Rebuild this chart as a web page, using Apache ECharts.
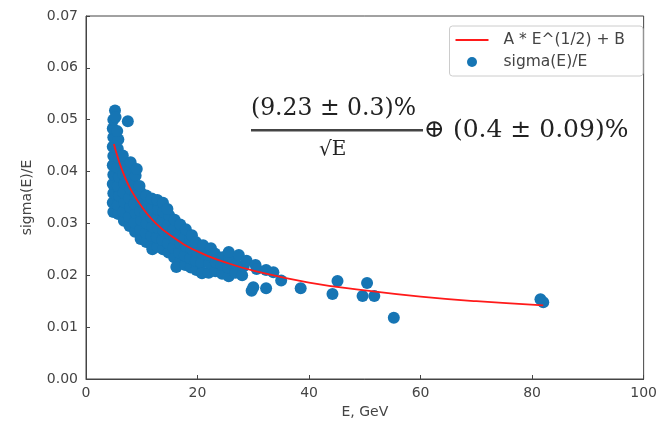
<!DOCTYPE html>
<html>
<head>
<meta charset="utf-8">
<script src="https://cdn.jsdelivr.net/npm/echarts@6/dist/echarts.min.js"></script>
<style>
  html, body { margin: 0; padding: 0; background: #fff; }
  #chart { width: 660px; height: 424px; }
</style>
</head>
<body>
<div id="chart"></div>
<script>
// fitted curve
const fitE = [5, 6, 7, 8, 10, 12, 15, 20, 25, 30, 40, 50, 60, 70, 82];
const fitVal = [0.0453, 0.0417, 0.0389, 0.0366, 0.0332, 0.0306, 0.0278, 0.0246, 0.0225, 0.0209, 0.0186, 0.0171, 0.0159, 0.0150, 0.0142];

// measured points [E, sigma(E)/E]
const points = [
  [4.9, 0.0322], [4.8, 0.0340], [4.9, 0.0358], [4.8, 0.0376], [4.9, 0.0394], [4.8, 0.0412], [4.9, 0.0430], [4.8, 0.0448], [4.9, 0.0466], [4.8, 0.0483], [4.9, 0.0500], [5.2, 0.0518], [5.3, 0.0505],
  [5.8, 0.0318], [5.7, 0.0336], [5.9, 0.0354], [5.7, 0.0372], [5.9, 0.0390], [5.7, 0.0408], [5.9, 0.0426], [5.7, 0.0444], [5.8, 0.0462], [5.6, 0.0478],
  [6.8, 0.0305], [6.7, 0.0323], [6.9, 0.0341], [6.7, 0.0359], [6.9, 0.0377], [6.7, 0.0395], [6.9, 0.0413], [6.6, 0.0431],
  [7.5, 0.0497],
  [7.8, 0.0295], [7.7, 0.0313], [7.9, 0.0331], [7.7, 0.0349], [7.9, 0.0367], [7.7, 0.0385], [7.9, 0.0403], [8.0, 0.0418],
  [8.8, 0.0284], [8.7, 0.0302], [8.9, 0.0320], [8.7, 0.0338], [8.9, 0.0356], [8.7, 0.0374], [8.9, 0.0392], [9.1, 0.0405],
  [9.8, 0.0270], [9.7, 0.0288], [9.9, 0.0306], [9.7, 0.0324], [9.9, 0.0342], [9.8, 0.0360], [9.6, 0.0372],
  [10.8, 0.0264], [10.7, 0.0282], [10.9, 0.0300], [10.7, 0.0318], [10.9, 0.0336], [10.8, 0.0354],
  [11.8, 0.0258], [11.7, 0.0276], [11.9, 0.0294], [11.7, 0.0312], [11.9, 0.0330], [11.8, 0.0348], [11.9, 0.0250],
  [12.8, 0.0255], [12.7, 0.0273], [12.9, 0.0291], [12.7, 0.0309], [12.9, 0.0327], [12.8, 0.0345],
  [13.8, 0.0250], [13.7, 0.0268], [13.9, 0.0286], [13.7, 0.0304], [13.9, 0.0322], [13.8, 0.0340],
  [14.8, 0.0244], [14.7, 0.0262], [14.9, 0.0280], [14.7, 0.0298], [14.9, 0.0316], [14.6, 0.0328],
  [15.8, 0.0235], [15.7, 0.0253], [15.9, 0.0271], [15.7, 0.0289], [15.9, 0.0307],
  [16.8, 0.0226], [16.7, 0.0244], [16.9, 0.0262], [16.7, 0.0280], [16.9, 0.0298], [16.2, 0.0216],
  [17.8, 0.0220], [17.7, 0.0238], [17.9, 0.0256], [17.7, 0.0274], [17.9, 0.0289],
  [18.8, 0.0215], [18.7, 0.0233], [18.9, 0.0251], [18.7, 0.0269], [19.0, 0.0277],
  [19.8, 0.0210], [19.7, 0.0228], [19.9, 0.0246], [19.7, 0.0264],
  [20.8, 0.0206], [20.7, 0.0224], [20.9, 0.0242], [21.0, 0.0258], [20.8, 0.0204],
  [22.0, 0.0205], [22.1, 0.0223], [21.9, 0.0240], [22.4, 0.0252],
  [23.2, 0.0208], [23.3, 0.0225], [23.1, 0.0242],
  [24.4, 0.0203], [24.3, 0.0220], [24.5, 0.0235],
  [25.6, 0.0198], [25.5, 0.0215], [25.7, 0.0232], [25.6, 0.0245],
  [26.8, 0.0205], [26.9, 0.0222], [27.4, 0.0239],
  [28.0, 0.0200], [28.3, 0.0218], [28.8, 0.0228],
  [29.7, 0.0170], [30.0, 0.0177], [30.4, 0.0220], [30.6, 0.0212], [32.3, 0.0210], [32.3, 0.0175], [33.6, 0.0206], [35.0, 0.0190],
  [38.5, 0.0175], [44.2, 0.0164], [45.1, 0.0189], [49.6, 0.0160], [50.4, 0.0185], [51.7, 0.0160],
  [55.2, 0.0118], [81.5, 0.0154], [82.0, 0.0148]
];

const xTicks = [0, 20, 40, 60, 80, 100];
const yTicks = [0, 0.01, 0.02, 0.03, 0.04, 0.05, 0.06, 0.07];

const chart = echarts.init(document.getElementById('chart'));

const fitName = 'A * E^(1/2) + B';
const ptName = 'sigma(E)/E';
const labelColor = '#444';
const sans = 'DejaVu Sans';

const option = {
  animation: false,
  grid: {
    left: 86, right: 11, top: 16, bottom: 45,
    show: true, borderColor: '#444', borderWidth: 1
  },
  legend: {
    right: 17, top: 26,
    orient: 'vertical',
    itemWidth: 33, itemHeight: 10, itemGap: 6,
    padding: [6, 18, 6, 5],
    borderColor: '#ccc', borderWidth: 1, borderRadius: 3,
    textStyle: { fontSize: 15.5, color: labelColor, fontFamily: sans, padding: [0, 0, 0, 10] },
    data: [
      { name: fitName, itemStyle: { color: 'rgba(0,0,0,0)', borderWidth: 0 } },
      { name: ptName }
    ]
  },
  xAxis: {
    type: 'value',
    min: xTicks[0], max: xTicks[xTicks.length - 1], interval: 20,
    name: 'E, GeV', nameLocation: 'middle', nameGap: 22,
    nameTextStyle: { fontSize: 14, color: labelColor, fontFamily: sans },
    axisLine: { lineStyle: { color: '#444' } },
    axisTick: { inside: true, length: 4, lineStyle: { color: '#444' } },
    axisLabel: { fontSize: 14, color: labelColor, fontFamily: sans, margin: 7 },
    splitLine: { show: false }
  },
  yAxis: {
    type: 'value',
    min: yTicks[0], max: yTicks[yTicks.length - 1], interval: 0.01,
    name: 'sigma(E)/E', nameLocation: 'middle', nameGap: 52,
    nameTextStyle: { fontSize: 14, color: labelColor, fontFamily: sans },
    axisLine: { show: true, lineStyle: { color: '#444' } },
    axisTick: { show: true, inside: true, length: 4, lineStyle: { color: '#444' } },
    axisLabel: {
      fontSize: 14, color: labelColor, fontFamily: sans, margin: 8,
      formatter: v => v.toFixed(2)
    },
    splitLine: { show: false }
  },
  series: [
    {
      name: ptName,
      type: 'scatter',
      symbolSize: 12,
      itemStyle: { color: '#1675b4', opacity: 1 },
      data: points,
      z: 2
    },
    {
      name: fitName,
      type: 'line',
      symbol: 'none',
      smooth: true,
      itemStyle: { color: '#ff1a1a' },
      lineStyle: { color: '#ff1a1a', width: 1.8 },
      data: fitE.map((e, i) => [e, fitVal[i]]),
      z: 3
    }
  ],
  graphic: [
    {
      type: 'text', left: 251, top: 97,
      style: { text: '(9.23 ± 0.3)%', font: '23.5px "DejaVu Serif"', fill: '#222' }
    },
    {
      type: 'rect', shape: { x: 251, y: 129, width: 172, height: 2.5 },
      style: { fill: '#444' }
    },
    {
      type: 'text', left: 319, top: 140,
      style: { text: '√E', font: '20px "DejaVu Serif"', fill: '#222' }
    },
    {
      type: 'text', left: 424, top: 118,
      style: { text: '⊕ (0.4 ± 0.09)%', font: '25px "DejaVu Serif"', fill: '#222' }
    }
  ]
};

chart.setOption(option);
</script>
</body>
</html>
